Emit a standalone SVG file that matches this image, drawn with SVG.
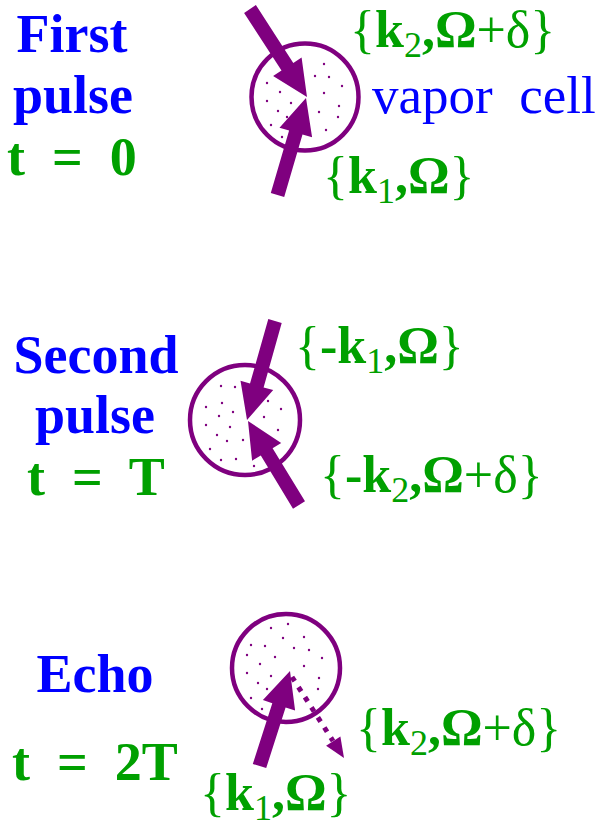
<svg xmlns="http://www.w3.org/2000/svg" width="605" height="830" viewBox="0 0 605 830">
<style>
.t{font-family:"Liberation Serif","Times New Roman",serif;font-weight:bold;font-size:54px;white-space:pre}
.w{font-size:52px}
.blue{fill:#0000ff}
.green{fill:#00a000}
.reg{font-weight:normal}
.vc{font-size:53px}
.sub{font-size:36px}
.cell{fill:none;stroke:#7f007f;stroke-width:4.5}
.arr{fill:#7f007f}
.dots circle{fill:#7f007f}
.dash{fill:none;stroke:#7f007f;stroke-width:5;stroke-dasharray:5 7}
</style>
<g id="panel1-labels">
<text class="t blue" x="72" y="52" text-anchor="middle">First</text>
<text class="t blue" x="73" y="113" text-anchor="middle">pulse</text>
<text class="t green" x="72" y="175" text-anchor="middle">t  =  0</text>
</g>
<g id="cell1">
<circle class="cell" cx="305" cy="97" r="53.5"/>
<g class="dots">
<circle cx="324" cy="64" r="1.2"/><circle cx="315" cy="76" r="1.2"/><circle cx="329" cy="77" r="1.2"/><circle cx="342" cy="86" r="1.2"/><circle cx="267" cy="83" r="1.2"/><circle cx="280" cy="92" r="1.2"/><circle cx="324" cy="93" r="1.2"/><circle cx="267" cy="101" r="1.2"/><circle cx="291" cy="103" r="1.2"/><circle cx="339" cy="106" r="1.2"/><circle cx="278" cy="111" r="1.2"/><circle cx="319" cy="112" r="1.2"/><circle cx="287" cy="117" r="1.2"/><circle cx="338" cy="117" r="1.2"/><circle cx="271" cy="125" r="1.2"/><circle cx="326" cy="130" r="1.2"/><circle cx="282" cy="137" r="1.2"/>
</g>
<text class="t blue reg vc" x="372" y="113">vapor  cell</text>
</g>
<g id="cell2">
<circle class="cell" cx="245" cy="420" r="55"/>
<g class="dots">
<circle cx="221" cy="386" r="1.2"/><circle cx="235" cy="387" r="1.2"/><circle cx="206" cy="407" r="1.2"/><circle cx="222" cy="403" r="1.2"/><circle cx="268" cy="401" r="1.2"/><circle cx="281" cy="409" r="1.2"/><circle cx="219" cy="416" r="1.2"/><circle cx="233" cy="412" r="1.2"/><circle cx="264" cy="417" r="1.2"/><circle cx="206" cy="425" r="1.2"/><circle cx="230" cy="427" r="1.2"/><circle cx="278" cy="430" r="1.2"/><circle cx="217" cy="435" r="1.2"/><circle cx="227" cy="441" r="1.2"/><circle cx="243" cy="440" r="1.2"/><circle cx="210" cy="449" r="1.2"/><circle cx="221" cy="460" r="1.2"/><circle cx="236" cy="459" r="1.2"/><circle cx="254" cy="466" r="1.2"/>
</g>
</g>
<g id="panel2-labels">
<text class="t blue" x="96" y="373" text-anchor="middle">Second</text>
<text class="t blue" x="95" y="433" text-anchor="middle">pulse</text>
<text class="t green" x="96" y="495" text-anchor="middle">t  =  T</text>
</g>
<g id="cell3">
<circle class="cell" cx="286" cy="668" r="54"/>
<g class="dots">
<circle cx="271" cy="628" r="1.2"/><circle cx="288" cy="624" r="1.2"/><circle cx="251" cy="645" r="1.2"/><circle cx="265" cy="646" r="1.2"/><circle cx="283" cy="638" r="1.2"/><circle cx="304" cy="637" r="1.2"/><circle cx="247" cy="655" r="1.2"/><circle cx="294" cy="648" r="1.2"/><circle cx="309" cy="650" r="1.2"/><circle cx="275" cy="657" r="1.2"/><circle cx="322" cy="658" r="1.2"/><circle cx="260" cy="664" r="1.2"/><circle cx="304" cy="666" r="1.2"/><circle cx="247" cy="673" r="1.2"/><circle cx="271" cy="676" r="1.2"/><circle cx="258" cy="683" r="1.2"/><circle cx="319" cy="678" r="1.2"/><circle cx="267" cy="689" r="1.2"/><circle cx="318" cy="689" r="1.2"/><circle cx="251" cy="698" r="1.2"/><circle cx="262" cy="709" r="1.2"/>
</g>
</g>
<g id="panel3-labels">
<text class="t blue" x="95" y="692" text-anchor="middle">Echo</text>
<text class="t green" x="95" y="780" text-anchor="middle">t  =  2T</text>
</g>
<g id="connectors">
<polygon class="arr" points="244.1,12.9 281.5,70.6 273.1,76.1 307,97 301.6,57.5 293.3,62.9 255.9,5.1"/>
<polygon class="arr" points="270.8,193 289.1,130.5 279.5,127.7 306,98 312.1,137.2 302.5,134.4 284.2,197"/>
<polygon class="arr" points="268.3,319.1 250,383.5 240.5,380.8 247,420 273.2,390.1 263.6,387.4 281.7,322.9"/>
<polygon class="arr" points="293,508.7 260.8,455.4 252.1,460.7 248,421 281.2,442.9 272.6,448.2 305,501.3"/>
<polygon class="arr" points="252.8,763.9 272.3,703.2 262.9,700.1 290,671 295.1,710.4 285.6,707.4 266.2,768.1"/>
<line class="dash" x1="292" y1="677" x2="333" y2="741"/>
<polygon class="arr" points="326.1,745.8 344,758 340.4,736.6"/>
</g>
<g id="wave-labels" class="t green w">
<text x="350" y="47"><tspan class="reg">{</tspan>k<tspan class="sub reg" dy="10">2</tspan><tspan dy="-10">,Ω</tspan><tspan class="reg">+δ}</tspan></text>
<text x="323" y="193"><tspan class="reg">{</tspan>k<tspan class="sub reg" dy="10">1</tspan><tspan dy="-10">,Ω</tspan><tspan class="reg">}</tspan></text>
<text x="295" y="363"><tspan class="reg">{</tspan>-k<tspan class="sub reg" dy="10">1</tspan><tspan dy="-10">,Ω</tspan><tspan class="reg">}</tspan></text>
<text x="320" y="492"><tspan class="reg">{</tspan>-k<tspan class="sub reg" dy="10">2</tspan><tspan dy="-10">,Ω</tspan><tspan class="reg">+δ}</tspan></text>
<text x="356" y="745"><tspan class="reg">{</tspan>k<tspan class="sub reg" dy="10">2</tspan><tspan dy="-10">,Ω</tspan><tspan class="reg">+δ}</tspan></text>
<text x="200" y="810"><tspan class="reg">{</tspan>k<tspan class="sub reg" dy="10">1</tspan><tspan dy="-10">,Ω</tspan><tspan class="reg">}</tspan></text>
</g>
</svg>
